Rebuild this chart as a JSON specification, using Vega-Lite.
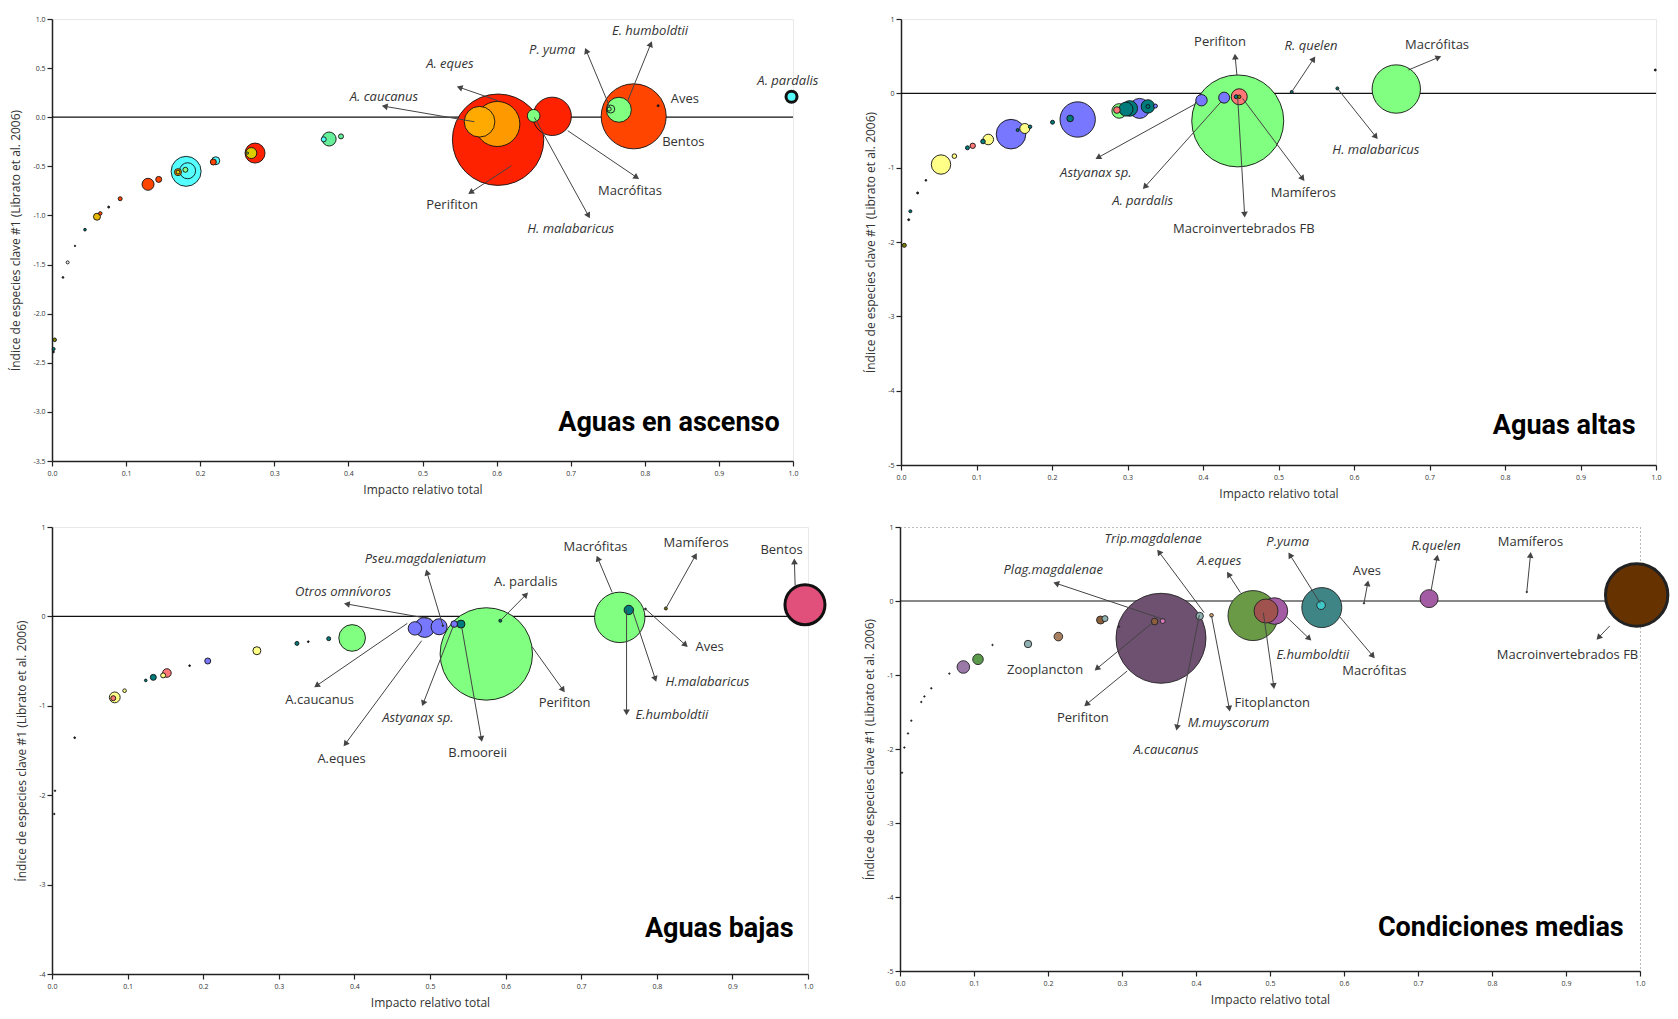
{
"$schema":"https://vega.github.io/schema/vega-lite/v6.json",
"background":"white",
"padding":{"left":9,"top":14,"right":0,"bottom":0},
"config":{
 "font":"Open Sans",
 "view":{"stroke":"#e8e8e8"},
 "axis":{"domainColor":"#222","domainWidth":1.5,"tickColor":"#222","tickWidth":1.2,"tickSize":5,"labelFontSize":7,"labelColor":"#333","labelFont":"Open Sans","titleFont":"Open Sans","titleFontSize":12,"titleFontWeight":"normal","titleColor":"#333","grid":false,"labelFlush":false,"labelOverlap":false,"labelExpr":"replace(datum.label, '−', '-')"},
 "axisX":{"titlePadding":8,"labelPadding":3},
 "axisY":{"titlePadding":10,"labelPadding":2},
 "text":{"font":"Open Sans","fontSize":13,"color":"#333"}
},
"datasets":{
"c1":[
{"x":0.602,"y":-0.229,"b":83.5,"g":"R1"},
{"x":0.785,"y":0.009,"b":42.3,"g":"R2"},
{"x":0.601,"y":-0.069,"b":20.3,"g":"R3"},
{"x":0.675,"y":0.009,"b":14.7,"g":"R1"},
{"x":0.577,"y":-0.046,"b":9.4,"g":"R4"},
{"x":0.181,"y":-0.551,"b":9.0,"g":"C1"},
{"x":0.765,"y":0.076,"b":6.25,"g":"V1"},
{"x":0.274,"y":-0.365,"b":4.0,"g":"R1"},
{"x":0.183,"y":-0.545,"b":2.56,"g":"C1"},
{"x":0.374,"y":-0.222,"b":1.96,"g":"V2"},
{"x":0.650,"y":0.015,"b":1.59,"g":"V1"},
{"x":0.1296,"y":-0.683,"b":1.44,"g":"R2"},
{"x":0.269,"y":-0.365,"b":1.21,"g":"Y1"},
{"x":0.998,"y":0.209,"b":1.21,"g":"C1","clave":true},
{"x":0.754,"y":0.083,"b":0.64,"g":"V1"},
{"x":0.221,"y":-0.443,"b":0.64,"g":"C1"},
{"x":0.0607,"y":-1.013,"b":0.49,"g":"Y2"},
{"x":0.170,"y":-0.559,"b":0.49,"g":"R3"},
{"x":0.2177,"y":-0.456,"b":0.36,"g":"R2"},
{"x":0.144,"y":-0.633,"b":0.36,"g":"R2"},
{"x":0.180,"y":-0.535,"b":0.25,"g":"V1"},
{"x":0.3667,"y":-0.225,"b":0.25,"g":"C1"},
{"x":0.39,"y":-0.195,"b":0.25,"g":"V2"},
{"x":0.752,"y":0.083,"b":0.16,"g":"V1"},
{"x":0.170,"y":-0.559,"b":0.15,"g":"Y1"},
{"x":0.092,"y":-0.830,"b":0.16,"g":"R2"},
{"x":0.0036,"y":-2.266,"b":0.13,"g":"O1"},
{"x":0.0652,"y":-0.979,"b":0.12,"g":"R2"},
{"x":0.0211,"y":-1.478,"b":0.09,"g":"W"},
{"x":0.0022,"y":-2.36,"b":0.09,"g":"T1"},
{"x":0.0445,"y":-1.145,"b":0.07,"g":"T1"},
{"x":0.264,"y":-0.365,"b":0.04,"g":"V1"},
{"x":0.0765,"y":-0.915,"b":0.04,"g":"N"},
{"x":0.031,"y":-1.31,"b":0.02,"g":"N"},
{"x":0.0148,"y":-1.631,"b":0.03,"g":"N"},
{"x":0.002,"y":-2.39,"b":0.03,"g":"N"},
{"x":0.818,"y":0.117,"b":0.04,"g":"N"}
],
"c2":[
{"x":0.446,"y":-0.371,"b":84.6,"g":"V1"},
{"x":0.656,"y":0.058,"b":23.4,"g":"V1"},
{"x":0.234,"y":-0.352,"b":12.5,"g":"B1"},
{"x":0.1457,"y":-0.549,"b":8.76,"g":"B1"},
{"x":0.316,"y":-0.203,"b":4.0,"g":"B1"},
{"x":0.053,"y":-0.958,"b":3.76,"g":"Y3"},
{"x":0.448,"y":-0.046,"b":2.56,"g":"P1"},
{"x":0.303,"y":-0.203,"b":2.43,"g":"T1"},
{"x":0.289,"y":-0.237,"b":2.13,"g":"V1"},
{"x":0.298,"y":-0.212,"b":1.96,"g":"T1"},
{"x":0.327,"y":-0.176,"b":1.8,"g":"T1"},
{"x":0.398,"y":-0.093,"b":1.3,"g":"B1"},
{"x":0.428,"y":-0.058,"b":1.21,"g":"B1"},
{"x":0.1156,"y":-0.621,"b":1.12,"g":"Y3"},
{"x":0.164,"y":-0.473,"b":1.0,"g":"Y3"},
{"x":0.224,"y":-0.338,"b":0.44,"g":"T1"},
{"x":0.286,"y":-0.225,"b":0.44,"g":"P1"},
{"x":0.095,"y":-0.706,"b":0.29,"g":"P1"},
{"x":0.0707,"y":-0.845,"b":0.21,"g":"Y3"},
{"x":0.1086,"y":-0.648,"b":0.21,"g":"T1"},
{"x":0.088,"y":-0.733,"b":0.16,"g":"T1"},
{"x":0.2007,"y":-0.389,"b":0.16,"g":"T1"},
{"x":0.337,"y":-0.171,"b":0.16,"g":"B1"},
{"x":0.327,"y":-0.176,"b":0.15,"g":"T1"},
{"x":0.444,"y":-0.046,"b":0.16,"g":"T1"},
{"x":0.448,"y":-0.046,"b":0.12,"g":"O1"},
{"x":0.0044,"y":-2.045,"b":0.16,"g":"O1"},
{"x":0.0124,"y":-1.586,"b":0.09,"g":"T1"},
{"x":0.1545,"y":-0.494,"b":0.09,"g":"T1"},
{"x":0.171,"y":-0.45,"b":0.12,"g":"T1"},
{"x":0.5175,"y":0.019,"b":0.09,"g":"T1"},
{"x":0.578,"y":0.066,"b":0.09,"g":"T1"},
{"x":0.033,"y":-1.17,"b":0.03,"g":"N"},
{"x":0.022,"y":-1.34,"b":0.04,"g":"N"},
{"x":0.0102,"y":-1.70,"b":0.04,"g":"N"},
{"x":0.999,"y":0.314,"b":0.04,"g":"N"}
],
"c3":[
{"x":0.5745,"y":-0.420,"b":85.4,"g":"V1"},
{"x":0.751,"y":-0.011,"b":25.4,"g":"V1"},
{"x":0.996,"y":0.131,"b":16,"g":"K1","clave":true},
{"x":0.397,"y":-0.241,"b":7.1,"g":"V1"},
{"x":0.493,"y":-0.123,"b":4.0,"g":"B1"},
{"x":0.512,"y":-0.116,"b":2.56,"g":"B1"},
{"x":0.480,"y":-0.134,"b":1.8,"g":"B1"},
{"x":0.083,"y":-0.906,"b":1.17,"g":"Y3"},
{"x":0.763,"y":0.072,"b":0.88,"g":"T1"},
{"x":0.152,"y":-0.633,"b":0.74,"g":"P1"},
{"x":0.271,"y":-0.384,"b":0.64,"g":"Y3"},
{"x":0.541,"y":-0.086,"b":0.64,"g":"T1"},
{"x":0.532,"y":-0.086,"b":0.44,"g":"B1"},
{"x":0.134,"y":-0.682,"b":0.36,"g":"T1"},
{"x":0.206,"y":-0.499,"b":0.36,"g":"B1"},
{"x":0.081,"y":-0.915,"b":0.25,"g":"P1"},
{"x":0.147,"y":-0.660,"b":0.25,"g":"Y3"},
{"x":0.324,"y":-0.302,"b":0.16,"g":"T1"},
{"x":0.366,"y":-0.249,"b":0.16,"g":"T1"},
{"x":0.096,"y":-0.831,"b":0.13,"g":"Y3"},
{"x":0.593,"y":-0.048,"b":0.09,"g":"T1"},
{"x":0.812,"y":0.089,"b":0.09,"g":"O1"},
{"x":0.124,"y":-0.716,"b":0.07,"g":"T1"},
{"x":0.030,"y":-1.357,"b":0.03,"g":"N"},
{"x":0.182,"y":-0.551,"b":0.03,"g":"N"},
{"x":0.339,"y":-0.283,"b":0.03,"g":"N"},
{"x":0.785,"y":0.083,"b":0.03,"g":"N"},
{"x":0.517,"y":-0.104,"b":0.02,"g":"N"},
{"x":0.004,"y":-1.95,"b":0.02,"g":"N"},
{"x":0.003,"y":-2.21,"b":0.02,"g":"N"}
],
"c4":[
{"x":0.3527,"y":-0.504,"b":81,"g":"M1"},
{"x":0.9955,"y":0.081,"b":38.9,"g":"M2","clave":true},
{"x":0.477,"y":-0.197,"b":25,"g":"M3"},
{"x":0.570,"y":-0.089,"b":16,"g":"M4"},
{"x":0.506,"y":-0.135,"b":7.08,"g":"M5"},
{"x":0.4946,"y":-0.135,"b":5.76,"g":"M6"},
{"x":0.715,"y":0.032,"b":3.24,"g":"M5"},
{"x":0.0856,"y":-0.892,"b":1.59,"g":"M8"},
{"x":0.1054,"y":-0.788,"b":1.12,"g":"M9"},
{"x":0.569,"y":-0.057,"b":0.74,"g":"M10"},
{"x":0.214,"y":-0.481,"b":0.74,"g":"M11"},
{"x":0.271,"y":-0.257,"b":0.64,"g":"M12"},
{"x":0.405,"y":-0.203,"b":0.55,"g":"M13"},
{"x":0.173,"y":-0.581,"b":0.55,"g":"M13"},
{"x":0.344,"y":-0.278,"b":0.44,"g":"M12"},
{"x":0.277,"y":-0.238,"b":0.36,"g":"M13"},
{"x":0.355,"y":-0.270,"b":0.25,"g":"M14"},
{"x":0.421,"y":-0.193,"b":0.13,"g":"M15"},
{"x":0.627,"y":-0.031,"b":0.02,"g":"N"},
{"x":0.847,"y":0.122,"b":0.02,"g":"N"},
{"x":0.125,"y":-0.594,"b":0.02,"g":"N"},
{"x":0.0667,"y":-0.981,"b":0.02,"g":"N"},
{"x":0.0423,"y":-1.18,"b":0.02,"g":"N"},
{"x":0.033,"y":-1.29,"b":0.02,"g":"N"},
{"x":0.0288,"y":-1.365,"b":0.02,"g":"N"},
{"x":0.0153,"y":-1.617,"b":0.02,"g":"N"},
{"x":0.0108,"y":-1.79,"b":0.02,"g":"N"},
{"x":0.0059,"y":-1.98,"b":0.02,"g":"N"},
{"x":0.0027,"y":-2.32,"b":0.02,"g":"N"},
{"x":0.296,"y":-0.346,"b":0.02,"g":"N"}
],
"a1":[
{"t":"A. caucanus","lx":0.448,"ly":0.209,"hx":0.449,"hy":0.111,"tx":0.570,"ty":-0.046,"ang":-80,"it":true},
{"t":"A. eques","lx":0.537,"ly":0.541,"hx":0.550,"hy":0.304,"tx":0.602,"ty":0.168,"ang":-71,"it":true},
{"t":"P. yuma","lx":0.675,"ly":0.684,"hx":0.721,"hy":0.677,"tx":0.753,"ty":0.10,"ang":-23,"it":true},
{"t":"E. humboldtii","lx":0.807,"ly":0.881,"hx":0.808,"hy":0.745,"tx":0.777,"ty":0.168,"ang":22,"it":true},
{"t":"A. pardalis","lx":0.993,"ly":0.372,"it":true},
{"t":"Aves","lx":0.854,"ly":0.185,"it":false},
{"t":"Bentos","lx":0.852,"ly":-0.256,"it":false},
{"t":"Macrófitas","lx":0.780,"ly":-0.755,"hx":0.789,"hy":-0.612,"tx":0.696,"ty":-0.137,"ang":124,"it":false},
{"t":"H. malabaricus","lx":0.700,"ly":-1.139,"hx":0.724,"hy":-1.003,"tx":0.651,"ty":-0.001,"ang":151,"it":true},
{"t":"Perifiton","lx":0.540,"ly":-0.894,"hx":0.565,"hy":-0.765,"tx":0.620,"ty":-0.494,"ang":-123,"it":false}
],
"a2":[
{"t":"Perifiton","lx":0.4225,"ly":0.695,"hx":0.4426,"hy":0.493,"tx":0.445,"ty":0.237,"ang":-5,"it":false},
{"t":"R. quelen","lx":0.543,"ly":0.641,"hx":0.5465,"hy":0.462,"tx":0.5175,"ty":0.019,"ang":34,"it":true},
{"t":"Macrófitas","lx":0.710,"ly":0.650,"hx":0.712,"hy":0.484,"tx":0.672,"ty":0.314,"ang":67,"it":false},
{"t":"H. malabaricus","lx":0.629,"ly":-0.764,"hx":0.629,"hy":-0.585,"tx":0.578,"ty":0.066,"ang":141,"it":true},
{"t":"Mamíferos","lx":0.533,"ly":-1.335,"hx":0.532,"hy":-1.147,"tx":0.4525,"ty":-0.069,"ang":143,"it":false},
{"t":"Macroinvertebrados FB","lx":0.454,"ly":-1.821,"hx":0.4551,"hy":-1.632,"tx":0.446,"ty":-0.069,"ang":177,"it":false},
{"t":"Astyanax sp.","lx":0.258,"ly":-1.066,"hx":0.261,"hy":-0.864,"tx":0.391,"ty":-0.136,"ang":-119,"it":true},
{"t":"A. pardalis","lx":0.320,"ly":-1.452,"hx":0.323,"hy":-1.259,"tx":0.424,"ty":-0.113,"ang":-138,"it":true}
],
"a3":[
{"t":"Pseu.magdaleniatum","lx":0.494,"ly":0.642,"hx":0.496,"hy":0.492,"tx":0.517,"ty":-0.104,"ang":-16,"it":true},
{"t":"Otros omnívoros","lx":0.385,"ly":0.268,"hx":0.390,"hy":0.139,"tx":0.501,"ty":-0.029,"ang":-80,"it":true},
{"t":"A. pardalis","lx":0.6266,"ly":0.388,"hx":0.627,"hy":0.243,"tx":0.593,"ty":-0.048,"ang":44,"it":false},
{"t":"A.caucanus","lx":0.354,"ly":-0.932,"hx":0.350,"hy":-0.775,"tx":0.470,"ty":-0.078,"ang":-124,"it":false},
{"t":"A.eques","lx":0.383,"ly":-1.595,"hx":0.388,"hy":-1.427,"tx":0.489,"ty":-0.272,"ang":-143,"it":false},
{"t":"Astyanax sp.","lx":0.484,"ly":-1.137,"hx":0.491,"hy":-0.973,"tx":0.531,"ty":-0.104,"ang":-159,"it":true},
{"t":"B.mooreii","lx":0.563,"ly":-1.528,"hx":0.568,"hy":-1.371,"tx":0.542,"ty":-0.123,"ang":170,"it":false},
{"t":"Perifiton","lx":0.678,"ly":-0.973,"hx":0.676,"hy":-0.823,"tx":0.635,"ty":-0.339,"ang":144,"it":false},
{"t":"Macrófitas","lx":0.719,"ly":0.780,"hx":0.722,"hy":0.649,"tx":0.741,"ty":0.268,"ang":-23,"it":false},
{"t":"Mamíferos","lx":0.852,"ly":0.821,"hx":0.851,"hy":0.679,"tx":0.812,"ty":0.089,"ang":30,"it":false},
{"t":"Bentos","lx":0.965,"ly":0.746,"hx":0.982,"hy":0.615,"tx":0.983,"ty":0.343,"ang":-2,"it":false},
{"t":"Aves","lx":0.870,"ly":-0.339,"hx":0.838,"hy":-0.320,"tx":0.785,"ty":0.083,"ang":132,"it":false},
{"t":"H.malabaricus","lx":0.867,"ly":-0.738,"hx":0.798,"hy":-0.700,"tx":0.768,"ty":0.064,"ang":161,"it":true},
{"t":"E.humboldtii","lx":0.820,"ly":-1.10,"hx":0.760,"hy":-1.074,"tx":0.760,"ty":0.072,"ang":180,"it":true}
],
"a4":[
{"t":"Trip.magdalenae","lx":0.342,"ly":0.843,"hx":0.350,"hy":0.662,"tx":0.411,"ty":-0.157,"ang":-37,"it":true},
{"t":"A.eques","lx":0.4315,"ly":0.541,"hx":0.444,"hy":0.361,"tx":0.460,"ty":0.114,"ang":-33,"it":true},
{"t":"Plag.magdalenae","lx":0.207,"ly":0.415,"hx":0.211,"hy":0.239,"tx":0.356,"ty":-0.247,"ang":-72,"it":true},
{"t":"Zooplancton","lx":0.196,"ly":-0.936,"hx":0.266,"hy":-0.914,"tx":0.3415,"ty":-0.292,"ang":-130,"it":false},
{"t":"Perifiton","lx":0.247,"ly":-1.576,"hx":0.252,"hy":-1.396,"tx":0.307,"ty":-0.946,"ang":-130,"it":false},
{"t":"A.caucanus","lx":0.3595,"ly":-2.014,"hx":0.3743,"hy":-1.711,"tx":0.4045,"ty":-0.193,"ang":-169,"it":true},
{"t":"M.muyscorum","lx":0.444,"ly":-1.646,"hx":0.445,"hy":-1.454,"tx":0.421,"ty":-0.203,"ang":170,"it":true},
{"t":"Fitoplancton","lx":0.503,"ly":-1.373,"hx":0.505,"hy":-1.149,"tx":0.491,"ty":-0.157,"ang":172,"it":false},
{"t":"E.humboldtii","lx":0.558,"ly":-0.730,"hx":0.553,"hy":-0.508,"tx":0.522,"ty":-0.211,"ang":133,"it":true},
{"t":"Macrófitas","lx":0.641,"ly":-0.946,"hx":0.639,"hy":-0.743,"tx":0.594,"ty":-0.211,"ang":140,"it":false},
{"t":"P.yuma","lx":0.524,"ly":0.803,"hx":0.527,"hy":0.622,"tx":0.568,"ty":-0.031,"ang":-32,"it":true},
{"t":"Aves","lx":0.631,"ly":0.405,"hx":0.632,"hy":0.239,"tx":0.627,"ty":-0.031,"ang":11,"it":false},
{"t":"R.quelen","lx":0.7243,"ly":0.743,"hx":0.7257,"hy":0.586,"tx":0.7176,"ty":0.135,"ang":10,"it":true},
{"t":"Mamíferos","lx":0.852,"ly":0.803,"hx":0.852,"hy":0.622,"tx":0.847,"ty":0.122,"ang":6,"it":false},
{"t":"Macroinvertebrados FB","lx":0.902,"ly":-0.730,"hx":0.944,"hy":-0.495,"tx":0.959,"ty":-0.338,"ang":-137,"it":false}
]
},
"spacing":22,
"resolve":{"scale":{"x":"independent","y":"independent"}},
"vconcat":[
{"bounds":"flush","spacing":108,"resolve":{"scale":{"x":"independent","y":"independent"}},
"hconcat":[
{"width":741,"height":442,
"layer":[
{"data":{"values":[{"v":0}]},"mark":{"type":"rule","color":"#111","strokeWidth":1.2},
 "encoding":{"y":{"field":"v","type":"quantitative","scale":{"domain":[-3.5,1],"nice":false,"zero":false},"axis":{"values":[-3.5,-3,-2.5,-2,-1.5,-1,-0.5,0,0.5,1],"format":".1f"},"title":"Índice de especies clave #1 (Librato et al. 2006)"}}},
{"data":{"name":"c1"},"mark":{"type":"circle","opacity":1,"stroke":"#111"},
 "encoding":{
  "x":{"field":"x","type":"quantitative","scale":{"domain":[0,1],"nice":false,"zero":false},"axis":{"values":[0,0.1,0.2,0.3,0.4,0.5,0.6,0.7,0.8,0.9,1],"format":".1f"},"title":"Impacto relativo total"},
  "y":{"field":"y","type":"quantitative","scale":{"domain":[-3.5,1],"nice":false,"zero":false},"axis":{"values":[-3.5,-3,-2.5,-2,-1.5,-1,-0.5,0,0.5,1],"format":".1f"},"title":"Índice de especies clave #1 (Librato et al. 2006)"},
  "size":{"field":"b","type":"quantitative","scale":{"type":"linear","domain":[0,100],"range":[0,10000]},"legend":null},
  "fill":{"field":"g","type":"nominal","legend":null,"scale":{"domain":["R1","R2","R3","R4","V1","V2","C1","Y1","Y2","Y3","B1","T1","P1","O1","N","K1","W","M1","M2","M3","M4","M5","M6","M8","M9","M10","M11","M12","M13","M14","M15"],"range":["#ff2200","#ff4500","#ff9900","#ffaa00","#80ff80","#66ee99","#55ffff","#dccc00","#e8b800","#ffff88","#7777ff","#007b7b","#ff7777","#808000","#222222","#e0507a","#eeeeee","#6e5070","#663300","#6a9a45","#3f8585","#a35ba3","#a0524f","#9a78a8","#5a9a4a","#40c8c8","#a88060","#8b5e3c","#8fb0b0","#d97ac0","#d8a070"]}},
  "strokeWidth":{"condition":{"test":"datum.clave","value":3},"value":0.9},
  "order":{"field":"b","type":"quantitative","sort":"descending"}}},
{"data":{"name":"a1"},"transform":[{"filter":"isValid(datum.hx)"}],"mark":{"type":"rule","color":"#444","strokeWidth":1},
 "encoding":{
  "x":{"field":"hx","type":"quantitative","scale":{"domain":[0,1],"nice":false,"zero":false},"axis":{"values":[0,0.1,0.2,0.3,0.4,0.5,0.6,0.7,0.8,0.9,1],"format":".1f"},"title":"Impacto relativo total"},
  "y":{"field":"hy","type":"quantitative","scale":{"domain":[-3.5,1],"nice":false,"zero":false},"axis":{"values":[-3.5,-3,-2.5,-2,-1.5,-1,-0.5,0,0.5,1],"format":".1f"},"title":"Índice de especies clave #1 (Librato et al. 2006)"},
  "x2":{"field":"tx"},"y2":{"field":"ty"}}},
{"data":{"name":"a1"},"transform":[{"filter":"isValid(datum.hx)"}],"mark":{"type":"point","shape":"triangle-up","filled":true,"color":"#444","opacity":1,"size":45},
 "encoding":{
  "x":{"field":"hx","type":"quantitative","scale":{"domain":[0,1],"nice":false,"zero":false},"axis":{"values":[0,0.1,0.2,0.3,0.4,0.5,0.6,0.7,0.8,0.9,1],"format":".1f"},"title":"Impacto relativo total"},
  "y":{"field":"hy","type":"quantitative","scale":{"domain":[-3.5,1],"nice":false,"zero":false},"axis":{"values":[-3.5,-3,-2.5,-2,-1.5,-1,-0.5,0,0.5,1],"format":".1f"},"title":"Índice de especies clave #1 (Librato et al. 2006)"},
  "angle":{"field":"ang","type":"quantitative","scale":null}}},
{"data":{"name":"a1"},"transform":[{"filter":"!datum.it"}],"mark":{"type":"text","fontSize":13,"color":"#333"},
 "encoding":{
  "x":{"field":"lx","type":"quantitative","scale":{"domain":[0,1],"nice":false,"zero":false},"axis":{"values":[0,0.1,0.2,0.3,0.4,0.5,0.6,0.7,0.8,0.9,1],"format":".1f"},"title":"Impacto relativo total"},
  "y":{"field":"ly","type":"quantitative","scale":{"domain":[-3.5,1],"nice":false,"zero":false},"axis":{"values":[-3.5,-3,-2.5,-2,-1.5,-1,-0.5,0,0.5,1],"format":".1f"},"title":"Índice de especies clave #1 (Librato et al. 2006)"},
  "text":{"field":"t"}}},
{"data":{"name":"a1"},"transform":[{"filter":"datum.it"}],"mark":{"type":"text","fontSize":13,"fontStyle":"italic","color":"#333"},
 "encoding":{
  "x":{"field":"lx","type":"quantitative","scale":{"domain":[0,1],"nice":false,"zero":false},"axis":{"values":[0,0.1,0.2,0.3,0.4,0.5,0.6,0.7,0.8,0.9,1],"format":".1f"},"title":"Impacto relativo total"},
  "y":{"field":"ly","type":"quantitative","scale":{"domain":[-3.5,1],"nice":false,"zero":false},"axis":{"values":[-3.5,-3,-2.5,-2,-1.5,-1,-0.5,0,0.5,1],"format":".1f"},"title":"Índice de especies clave #1 (Librato et al. 2006)"},
  "text":{"field":"t"}}},
{"data":{"values":[{"t":"Aguas en ascenso","x":0.982,"y":-3.195}]},"mark":{"type":"text","font":"Roboto","fontSize":27,"fontWeight":"bold","color":"#000","align":"right","baseline":"alphabetic"},
 "encoding":{
  "x":{"field":"x","type":"quantitative","scale":{"domain":[0,1],"nice":false,"zero":false},"axis":{"values":[0,0.1,0.2,0.3,0.4,0.5,0.6,0.7,0.8,0.9,1],"format":".1f"},"title":"Impacto relativo total"},
  "y":{"field":"y","type":"quantitative","scale":{"domain":[-3.5,1],"nice":false,"zero":false},"axis":{"values":[-3.5,-3,-2.5,-2,-1.5,-1,-0.5,0,0.5,1],"format":".1f"},"title":"Índice de especies clave #1 (Librato et al. 2006)"},
  "text":{"field":"t"}}}
]},
{"width":755,"height":446,
"layer":[
{"data":{"values":[{"v":0}]},"mark":{"type":"rule","color":"#111","strokeWidth":1.2},
 "encoding":{"y":{"field":"v","type":"quantitative","scale":{"domain":[-5,1],"nice":false,"zero":false},"axis":{"values":[-5,-4,-3,-2,-1,0,1],"format":"d"},"title":"Índice de especies clave #1 (Librato et al. 2006)"}}},
{"data":{"name":"c2"},"mark":{"type":"circle","opacity":1,"stroke":"#111"},
 "encoding":{
  "x":{"field":"x","type":"quantitative","scale":{"domain":[0,1],"nice":false,"zero":false},"axis":{"values":[0,0.1,0.2,0.3,0.4,0.5,0.6,0.7,0.8,0.9,1],"format":".1f"},"title":"Impacto relativo total"},
  "y":{"field":"y","type":"quantitative","scale":{"domain":[-5,1],"nice":false,"zero":false},"axis":{"values":[-5,-4,-3,-2,-1,0,1],"format":"d"},"title":"Índice de especies clave #1 (Librato et al. 2006)"},
  "size":{"field":"b","type":"quantitative","scale":{"type":"linear","domain":[0,100],"range":[0,10000]},"legend":null},
  "fill":{"field":"g","type":"nominal","legend":null,"scale":{"domain":["R1","R2","R3","R4","V1","V2","C1","Y1","Y2","Y3","B1","T1","P1","O1","N","K1","W","M1","M2","M3","M4","M5","M6","M8","M9","M10","M11","M12","M13","M14","M15"],"range":["#ff2200","#ff4500","#ff9900","#ffaa00","#80ff80","#66ee99","#55ffff","#dccc00","#e8b800","#ffff88","#7777ff","#007b7b","#ff7777","#808000","#222222","#e0507a","#eeeeee","#6e5070","#663300","#6a9a45","#3f8585","#a35ba3","#a0524f","#9a78a8","#5a9a4a","#40c8c8","#a88060","#8b5e3c","#8fb0b0","#d97ac0","#d8a070"]}},
  "strokeWidth":{"condition":{"test":"datum.clave","value":3},"value":0.9},
  "order":{"field":"b","type":"quantitative","sort":"descending"}}},
{"data":{"name":"a2"},"transform":[{"filter":"isValid(datum.hx)"}],"mark":{"type":"rule","color":"#444","strokeWidth":1},
 "encoding":{
  "x":{"field":"hx","type":"quantitative","scale":{"domain":[0,1],"nice":false,"zero":false},"axis":{"values":[0,0.1,0.2,0.3,0.4,0.5,0.6,0.7,0.8,0.9,1],"format":".1f"},"title":"Impacto relativo total"},
  "y":{"field":"hy","type":"quantitative","scale":{"domain":[-5,1],"nice":false,"zero":false},"axis":{"values":[-5,-4,-3,-2,-1,0,1],"format":"d"},"title":"Índice de especies clave #1 (Librato et al. 2006)"},
  "x2":{"field":"tx"},"y2":{"field":"ty"}}},
{"data":{"name":"a2"},"transform":[{"filter":"isValid(datum.hx)"}],"mark":{"type":"point","shape":"triangle-up","filled":true,"color":"#444","opacity":1,"size":45},
 "encoding":{
  "x":{"field":"hx","type":"quantitative","scale":{"domain":[0,1],"nice":false,"zero":false},"axis":{"values":[0,0.1,0.2,0.3,0.4,0.5,0.6,0.7,0.8,0.9,1],"format":".1f"},"title":"Impacto relativo total"},
  "y":{"field":"hy","type":"quantitative","scale":{"domain":[-5,1],"nice":false,"zero":false},"axis":{"values":[-5,-4,-3,-2,-1,0,1],"format":"d"},"title":"Índice de especies clave #1 (Librato et al. 2006)"},
  "angle":{"field":"ang","type":"quantitative","scale":null}}},
{"data":{"name":"a2"},"transform":[{"filter":"!datum.it"}],"mark":{"type":"text","fontSize":13,"color":"#333"},
 "encoding":{
  "x":{"field":"lx","type":"quantitative","scale":{"domain":[0,1],"nice":false,"zero":false},"axis":{"values":[0,0.1,0.2,0.3,0.4,0.5,0.6,0.7,0.8,0.9,1],"format":".1f"},"title":"Impacto relativo total"},
  "y":{"field":"ly","type":"quantitative","scale":{"domain":[-5,1],"nice":false,"zero":false},"axis":{"values":[-5,-4,-3,-2,-1,0,1],"format":"d"},"title":"Índice de especies clave #1 (Librato et al. 2006)"},
  "text":{"field":"t"}}},
{"data":{"name":"a2"},"transform":[{"filter":"datum.it"}],"mark":{"type":"text","fontSize":13,"fontStyle":"italic","color":"#333"},
 "encoding":{
  "x":{"field":"lx","type":"quantitative","scale":{"domain":[0,1],"nice":false,"zero":false},"axis":{"values":[0,0.1,0.2,0.3,0.4,0.5,0.6,0.7,0.8,0.9,1],"format":".1f"},"title":"Impacto relativo total"},
  "y":{"field":"ly","type":"quantitative","scale":{"domain":[-5,1],"nice":false,"zero":false},"axis":{"values":[-5,-4,-3,-2,-1,0,1],"format":"d"},"title":"Índice de especies clave #1 (Librato et al. 2006)"},
  "text":{"field":"t"}}},
{"data":{"values":[{"t":"Aguas altas","x":0.973,"y":-4.587}]},"mark":{"type":"text","font":"Roboto","fontSize":27,"fontWeight":"bold","color":"#000","align":"right","baseline":"alphabetic"},
 "encoding":{
  "x":{"field":"x","type":"quantitative","scale":{"domain":[0,1],"nice":false,"zero":false},"axis":{"values":[0,0.1,0.2,0.3,0.4,0.5,0.6,0.7,0.8,0.9,1],"format":".1f"},"title":"Impacto relativo total"},
  "y":{"field":"y","type":"quantitative","scale":{"domain":[-5,1],"nice":false,"zero":false},"axis":{"values":[-5,-4,-3,-2,-1,0,1],"format":"d"},"title":"Índice de especies clave #1 (Librato et al. 2006)"},
  "text":{"field":"t"}}}
]}
]},
{"bounds":"flush","spacing":92,"resolve":{"scale":{"x":"independent","y":"independent"}},
"hconcat":[
{"width":756,"height":447,
"layer":[
{"data":{"values":[{"v":0}]},"mark":{"type":"rule","color":"#111","strokeWidth":1.2},
 "encoding":{"y":{"field":"v","type":"quantitative","scale":{"domain":[-4,1],"nice":false,"zero":false},"axis":{"values":[-4,-3,-2,-1,0,1],"format":"d"},"title":"Índice de especies clave #1 (Librato et al. 2006)"}}},
{"data":{"name":"c3"},"mark":{"type":"circle","opacity":1,"stroke":"#111"},
 "encoding":{
  "x":{"field":"x","type":"quantitative","scale":{"domain":[0,1],"nice":false,"zero":false},"axis":{"values":[0,0.1,0.2,0.3,0.4,0.5,0.6,0.7,0.8,0.9,1],"format":".1f"},"title":"Impacto relativo total"},
  "y":{"field":"y","type":"quantitative","scale":{"domain":[-4,1],"nice":false,"zero":false},"axis":{"values":[-4,-3,-2,-1,0,1],"format":"d"},"title":"Índice de especies clave #1 (Librato et al. 2006)"},
  "size":{"field":"b","type":"quantitative","scale":{"type":"linear","domain":[0,100],"range":[0,10000]},"legend":null},
  "fill":{"field":"g","type":"nominal","legend":null,"scale":{"domain":["R1","R2","R3","R4","V1","V2","C1","Y1","Y2","Y3","B1","T1","P1","O1","N","K1","W","M1","M2","M3","M4","M5","M6","M8","M9","M10","M11","M12","M13","M14","M15"],"range":["#ff2200","#ff4500","#ff9900","#ffaa00","#80ff80","#66ee99","#55ffff","#dccc00","#e8b800","#ffff88","#7777ff","#007b7b","#ff7777","#808000","#222222","#e0507a","#eeeeee","#6e5070","#663300","#6a9a45","#3f8585","#a35ba3","#a0524f","#9a78a8","#5a9a4a","#40c8c8","#a88060","#8b5e3c","#8fb0b0","#d97ac0","#d8a070"]}},
  "strokeWidth":{"condition":{"test":"datum.clave","value":3},"value":0.9},
  "order":{"field":"b","type":"quantitative","sort":"descending"}}},
{"data":{"name":"a3"},"transform":[{"filter":"isValid(datum.hx)"}],"mark":{"type":"rule","color":"#444","strokeWidth":1},
 "encoding":{
  "x":{"field":"hx","type":"quantitative","scale":{"domain":[0,1],"nice":false,"zero":false},"axis":{"values":[0,0.1,0.2,0.3,0.4,0.5,0.6,0.7,0.8,0.9,1],"format":".1f"},"title":"Impacto relativo total"},
  "y":{"field":"hy","type":"quantitative","scale":{"domain":[-4,1],"nice":false,"zero":false},"axis":{"values":[-4,-3,-2,-1,0,1],"format":"d"},"title":"Índice de especies clave #1 (Librato et al. 2006)"},
  "x2":{"field":"tx"},"y2":{"field":"ty"}}},
{"data":{"name":"a3"},"transform":[{"filter":"isValid(datum.hx)"}],"mark":{"type":"point","shape":"triangle-up","filled":true,"color":"#444","opacity":1,"size":45},
 "encoding":{
  "x":{"field":"hx","type":"quantitative","scale":{"domain":[0,1],"nice":false,"zero":false},"axis":{"values":[0,0.1,0.2,0.3,0.4,0.5,0.6,0.7,0.8,0.9,1],"format":".1f"},"title":"Impacto relativo total"},
  "y":{"field":"hy","type":"quantitative","scale":{"domain":[-4,1],"nice":false,"zero":false},"axis":{"values":[-4,-3,-2,-1,0,1],"format":"d"},"title":"Índice de especies clave #1 (Librato et al. 2006)"},
  "angle":{"field":"ang","type":"quantitative","scale":null}}},
{"data":{"name":"a3"},"transform":[{"filter":"!datum.it"}],"mark":{"type":"text","fontSize":13,"color":"#333"},
 "encoding":{
  "x":{"field":"lx","type":"quantitative","scale":{"domain":[0,1],"nice":false,"zero":false},"axis":{"values":[0,0.1,0.2,0.3,0.4,0.5,0.6,0.7,0.8,0.9,1],"format":".1f"},"title":"Impacto relativo total"},
  "y":{"field":"ly","type":"quantitative","scale":{"domain":[-4,1],"nice":false,"zero":false},"axis":{"values":[-4,-3,-2,-1,0,1],"format":"d"},"title":"Índice de especies clave #1 (Librato et al. 2006)"},
  "text":{"field":"t"}}},
{"data":{"name":"a3"},"transform":[{"filter":"datum.it"}],"mark":{"type":"text","fontSize":13,"fontStyle":"italic","color":"#333"},
 "encoding":{
  "x":{"field":"lx","type":"quantitative","scale":{"domain":[0,1],"nice":false,"zero":false},"axis":{"values":[0,0.1,0.2,0.3,0.4,0.5,0.6,0.7,0.8,0.9,1],"format":".1f"},"title":"Impacto relativo total"},
  "y":{"field":"ly","type":"quantitative","scale":{"domain":[-4,1],"nice":false,"zero":false},"axis":{"values":[-4,-3,-2,-1,0,1],"format":"d"},"title":"Índice de especies clave #1 (Librato et al. 2006)"},
  "text":{"field":"t"}}},
{"data":{"values":[{"t":"Aguas bajas","x":0.981,"y":-3.59}]},"mark":{"type":"text","font":"Roboto","fontSize":27,"fontWeight":"bold","color":"#000","align":"right","baseline":"alphabetic"},
 "encoding":{
  "x":{"field":"x","type":"quantitative","scale":{"domain":[0,1],"nice":false,"zero":false},"axis":{"values":[0,0.1,0.2,0.3,0.4,0.5,0.6,0.7,0.8,0.9,1],"format":".1f"},"title":"Impacto relativo total"},
  "y":{"field":"y","type":"quantitative","scale":{"domain":[-4,1],"nice":false,"zero":false},"axis":{"values":[-4,-3,-2,-1,0,1],"format":"d"},"title":"Índice de especies clave #1 (Librato et al. 2006)"},
  "text":{"field":"t"}}}
]},
{"width":740,"height":444,
"view":{"stroke":"#777","strokeDash":[1,3]},
"layer":[
{"data":{"values":[{"v":0}]},"mark":{"type":"rule","color":"#111","strokeWidth":1.2},
 "encoding":{"y":{"field":"v","type":"quantitative","scale":{"domain":[-5,1],"nice":false,"zero":false},"axis":{"values":[-5,-4,-3,-2,-1,0,1],"format":"d"},"title":"Índice de especies clave #1 (Librato et al. 2006)"}}},
{"data":{"name":"c4"},"mark":{"type":"circle","opacity":1,"stroke":"#222"},
 "encoding":{
  "x":{"field":"x","type":"quantitative","scale":{"domain":[0,1],"nice":false,"zero":false},"axis":{"values":[0,0.1,0.2,0.3,0.4,0.5,0.6,0.7,0.8,0.9,1],"format":".1f"},"title":"Impacto relativo total"},
  "y":{"field":"y","type":"quantitative","scale":{"domain":[-5,1],"nice":false,"zero":false},"axis":{"values":[-5,-4,-3,-2,-1,0,1],"format":"d"},"title":"Índice de especies clave #1 (Librato et al. 2006)"},
  "size":{"field":"b","type":"quantitative","scale":{"type":"linear","domain":[0,100],"range":[0,10000]},"legend":null},
  "fill":{"field":"g","type":"nominal","legend":null,"scale":{"domain":["R1","R2","R3","R4","V1","V2","C1","Y1","Y2","Y3","B1","T1","P1","O1","N","K1","W","M1","M2","M3","M4","M5","M6","M8","M9","M10","M11","M12","M13","M14","M15"],"range":["#ff2200","#ff4500","#ff9900","#ffaa00","#80ff80","#66ee99","#55ffff","#dccc00","#e8b800","#ffff88","#7777ff","#007b7b","#ff7777","#808000","#222222","#e0507a","#eeeeee","#6e5070","#663300","#6a9a45","#3f8585","#a35ba3","#a0524f","#9a78a8","#5a9a4a","#40c8c8","#a88060","#8b5e3c","#8fb0b0","#d97ac0","#d8a070"]}},
  "strokeWidth":{"condition":{"test":"datum.clave","value":3},"value":0.9},
  "order":{"field":"b","type":"quantitative","sort":"descending"}}},
{"data":{"name":"a4"},"transform":[{"filter":"isValid(datum.hx)"}],"mark":{"type":"rule","color":"#444","strokeWidth":1},
 "encoding":{
  "x":{"field":"hx","type":"quantitative","scale":{"domain":[0,1],"nice":false,"zero":false},"axis":{"values":[0,0.1,0.2,0.3,0.4,0.5,0.6,0.7,0.8,0.9,1],"format":".1f"},"title":"Impacto relativo total"},
  "y":{"field":"hy","type":"quantitative","scale":{"domain":[-5,1],"nice":false,"zero":false},"axis":{"values":[-5,-4,-3,-2,-1,0,1],"format":"d"},"title":"Índice de especies clave #1 (Librato et al. 2006)"},
  "x2":{"field":"tx"},"y2":{"field":"ty"}}},
{"data":{"name":"a4"},"transform":[{"filter":"isValid(datum.hx)"}],"mark":{"type":"point","shape":"triangle-up","filled":true,"color":"#444","opacity":1,"size":45},
 "encoding":{
  "x":{"field":"hx","type":"quantitative","scale":{"domain":[0,1],"nice":false,"zero":false},"axis":{"values":[0,0.1,0.2,0.3,0.4,0.5,0.6,0.7,0.8,0.9,1],"format":".1f"},"title":"Impacto relativo total"},
  "y":{"field":"hy","type":"quantitative","scale":{"domain":[-5,1],"nice":false,"zero":false},"axis":{"values":[-5,-4,-3,-2,-1,0,1],"format":"d"},"title":"Índice de especies clave #1 (Librato et al. 2006)"},
  "angle":{"field":"ang","type":"quantitative","scale":null}}},
{"data":{"name":"a4"},"transform":[{"filter":"!datum.it"}],"mark":{"type":"text","fontSize":13,"color":"#333"},
 "encoding":{
  "x":{"field":"lx","type":"quantitative","scale":{"domain":[0,1],"nice":false,"zero":false},"axis":{"values":[0,0.1,0.2,0.3,0.4,0.5,0.6,0.7,0.8,0.9,1],"format":".1f"},"title":"Impacto relativo total"},
  "y":{"field":"ly","type":"quantitative","scale":{"domain":[-5,1],"nice":false,"zero":false},"axis":{"values":[-5,-4,-3,-2,-1,0,1],"format":"d"},"title":"Índice de especies clave #1 (Librato et al. 2006)"},
  "text":{"field":"t"}}},
{"data":{"name":"a4"},"transform":[{"filter":"datum.it"}],"mark":{"type":"text","fontSize":13,"fontStyle":"italic","color":"#333"},
 "encoding":{
  "x":{"field":"lx","type":"quantitative","scale":{"domain":[0,1],"nice":false,"zero":false},"axis":{"values":[0,0.1,0.2,0.3,0.4,0.5,0.6,0.7,0.8,0.9,1],"format":".1f"},"title":"Impacto relativo total"},
  "y":{"field":"ly","type":"quantitative","scale":{"domain":[-5,1],"nice":false,"zero":false},"axis":{"values":[-5,-4,-3,-2,-1,0,1],"format":"d"},"title":"Índice de especies clave #1 (Librato et al. 2006)"},
  "text":{"field":"t"}}},
{"data":{"values":[{"t":"Condiciones medias","x":0.978,"y":-4.527}]},"mark":{"type":"text","font":"Roboto","fontSize":27,"fontWeight":"bold","color":"#000","align":"right","baseline":"alphabetic"},
 "encoding":{
  "x":{"field":"x","type":"quantitative","scale":{"domain":[0,1],"nice":false,"zero":false},"axis":{"values":[0,0.1,0.2,0.3,0.4,0.5,0.6,0.7,0.8,0.9,1],"format":".1f"},"title":"Impacto relativo total"},
  "y":{"field":"y","type":"quantitative","scale":{"domain":[-5,1],"nice":false,"zero":false},"axis":{"values":[-5,-4,-3,-2,-1,0,1],"format":"d"},"title":"Índice de especies clave #1 (Librato et al. 2006)"},
  "text":{"field":"t"}}}
]}
]}
]
}
